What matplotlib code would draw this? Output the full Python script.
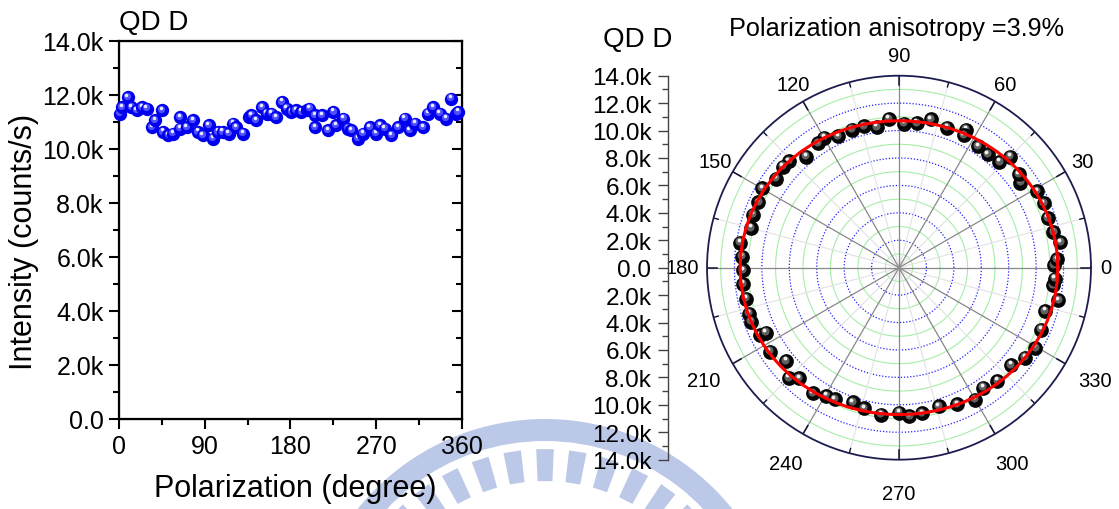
import numpy as np
import matplotlib
matplotlib.use("Agg")
from matplotlib import pyplot as plt
from matplotlib.ticker import MultipleLocator, FuncFormatter
from matplotlib.transforms import offset_copy
from matplotlib.patches import Wedge, Polygon

plt.rcParams['font.family'] = ['Liberation Sans', 'DejaVu Sans']

# polarizer angle (degree) and PL intensity (counts/s) of QD D
angle = [1, 3, 9, 13, 18.5, 24, 29, 35, 38, 45, 46.5, 52, 57, 64, 64, 71, 78, 83,
         88, 94, 99, 104, 109, 115, 120, 123, 130, 136, 139, 144, 150, 155, 160,
         165, 171, 176, 181, 186, 191.5, 197, 200, 206, 206, 213, 219.5, 225, 228,
         235.5, 240.5, 244, 251, 256, 263, 270, 274, 279, 286, 293, 300, 305, 311,
         319, 324.5, 329.5, 336.5, 343.5, 348.5, 353.5, 356]
intensity = [11310, 11550, 11920, 11550, 11430, 11550, 11490, 10810, 11060, 11430,
             10630, 10500, 10560, 11180, 10750, 10810, 11060, 10630, 10500, 10870,
             10380, 10630, 10630, 10560, 10940, 10810, 10560, 11180, 11240, 11060,
             11550, 11310, 11310, 11180, 11740, 11490, 11370, 11430, 11370, 11430,
             11490, 11240, 10810, 11240, 10690, 11370, 10870, 11120, 10750, 10690,
             10380, 10560, 10810, 10560, 10870, 10750, 10500, 10810, 11120, 10690,
             10940, 10810, 11310, 11550, 11310, 11120, 11860, 11310, 11370]

# cos(2θ) fit: mean intensity and polarization anisotropy
fit_mean = 11150.0
anisotropy = 0.039
theta_labels = list(range(0, 360, 30))


def k_fmt(v, pos):
    if abs(v) < 1e-6:
        return '0.0'
    return '%.1fk' % (abs(v) / 1000.0)


def balls(ax, xs, ys, size, base, mid, light):
    # shaded sphere symbols, one point at a time so overlaps stack properly
    t1 = offset_copy(ax.transData, fig=fig, x=-0.8, y=1.4, units='dots')
    t2 = offset_copy(ax.transData, fig=fig, x=-1.3, y=2.6, units='dots')
    for i, (x, y) in enumerate(zip(xs, ys)):
        z = 3 + i * 0.01
        ax.plot([x], [y], 'o', ms=size, mfc=base, mec=base, mew=0,
                zorder=z, clip_on=False)
        ax.plot([x], [y], 'o', ms=size * 0.55, mfc=mid, mew=0,
                transform=t1, zorder=z + 0.002, clip_on=False)
        ax.plot([x], [y], 'o', ms=size * 0.26, mfc=light, mew=0,
                transform=t2, zorder=z + 0.004, clip_on=False)


fig = plt.figure(figsize=(11.19, 5.10), dpi=100)

# faint emblem in the background
wm = fig.add_axes([0, 0, 1, 1], zorder=-5)
wm.set_xlim(0, 1119)
wm.set_ylim(510, 0)
wm.axis('off')
wm_c = (545, 660)
wm_color = '#bcc8e7'
wm.add_patch(Wedge(wm_c, 240, 195, 345, width=22, color=wm_color, lw=0))
for a in np.arange(198, 345, 9.0):
    r1, r2 = 178, 210
    w = np.deg2rad(2.4)
    t = np.deg2rad(a)
    pts = [(wm_c[0] + r1 * np.cos(t - w), wm_c[1] + r1 * np.sin(t - w)),
           (wm_c[0] + r2 * np.cos(t - w), wm_c[1] + r2 * np.sin(t - w)),
           (wm_c[0] + r2 * np.cos(t + w), wm_c[1] + r2 * np.sin(t + w)),
           (wm_c[0] + r1 * np.cos(t + w), wm_c[1] + r1 * np.sin(t + w))]
    wm.add_patch(Polygon(pts, closed=True, color=wm_color, lw=0))

# ---- left: intensity vs polarization angle ----
ax = fig.add_axes([0.1063, 0.1765, 0.3065, 0.7412])
ax.set_xlim(0, 360)
ax.set_ylim(0, 14000)
ax.xaxis.set_major_locator(MultipleLocator(90))
ax.xaxis.set_minor_locator(MultipleLocator(45))
ax.yaxis.set_major_locator(MultipleLocator(2000))
ax.yaxis.set_minor_locator(MultipleLocator(1000))
ax.yaxis.set_major_formatter(FuncFormatter(k_fmt))
ax.tick_params(which='both', direction='out', width=1.5, labelsize=18,
               top=False, right=False)
ax.tick_params(which='major', length=7, pad=4)
ax.tick_params(which='minor', length=4)
for s in ax.spines.values():
    s.set_linewidth(1.6)
axr = ax.twinx()
axr.set_ylim(0, 14000)
axr.yaxis.set_major_locator(MultipleLocator(2000))
axr.yaxis.set_minor_locator(MultipleLocator(1000))
axr.tick_params(which='both', direction='in', width=1.5, labelright=False)
axr.tick_params(which='major', length=7)
axr.tick_params(which='minor', length=4)
axr.set_zorder(ax.get_zorder() - 1)
ax.patch.set_visible(False)

balls(ax, angle, intensity, 9.6, '#0000ee', '#5050ff', '#ececff')
ax.set_xlabel('Polarization (degree)', fontsize=22)
ax.set_ylabel('Intensity (counts/s)', fontsize=22)
ax.xaxis.set_label_coords(0.513, -0.142)
ax.yaxis.set_label_coords(-0.232, 0.47)
fig.text(119 / 1119, 1 - 30 / 510, 'QD D', fontsize=20, va='baseline')

# ---- right: polar plot ----
axp = fig.add_axes([0.6318, 0.0967, 0.3432, 0.7529], projection='polar')
axp.set_ylim(0, 14000)
axp.set_xticks([])
axp.set_yticks([])
axp.grid(False)
axp.spines['polar'].set_color('#1c1c50')
axp.spines['polar'].set_linewidth(1.3)

ring = np.linspace(0, 2 * np.pi, 721)
for r in range(1000, 14000, 1000):
    if r % 2000:
        axp.plot(ring, np.full_like(ring, r), color='#a6eea6', lw=0.8, zorder=1)
    else:
        axp.plot(ring, np.full_like(ring, r), color='#2020ff', lw=0.9,
                 ls=(0, (1, 1.5)), zorder=1)
for a in range(0, 360, 15):
    t = np.deg2rad(a)
    if a % 30 == 0:
        axp.plot([t, t], [0, 14000], color='#888888', lw=0.9, zorder=1.5)
        axp.plot([t, t], [13300, 14000], color='#111133', lw=1.1, zorder=1.6)
    else:
        axp.plot([t, t], [0, 14000], color='#e2e2e2', lw=0.8, zorder=1.2)
        axp.plot([t, t], [13650, 14000], color='#111133', lw=1.0, zorder=1.6)

for a in theta_labels:
    t = np.deg2rad(a)
    if np.sin(t) < -0.1:
        rpx = 226
    elif np.sin(t) > 0.1:
        rpx = 212
    else:
        rpx = 212 - 5 * np.cos(t)
    axp.text(t, rpx / 192.0 * 14000, str(a), ha='center', va='center',
             fontsize=14.5, clip_on=False)

balls(axp, np.deg2rad(angle), intensity, 10.6, '#050505', '#606060', '#f0f0f0')

fit_t = np.deg2rad(np.arange(0, 365, 5))
fit_r = fit_mean * (1 + anisotropy * np.cos(2 * fit_t))
axp.plot(fit_t, fit_r, color='#ff0000', lw=2.2, zorder=10)

# radial scale drawn as a vertical axis beside the polar plot
axv = fig.add_axes([668 / 1119, 0.0967, 0.0001, 0.7529])
axv.set_ylim(-14000, 14000)
axv.patch.set_visible(False)
for k in ('right', 'top', 'bottom'):
    axv.spines[k].set_visible(False)
axv.spines['left'].set_color('#444444')
axv.spines['left'].set_linewidth(1.0)
axv.set_xticks([])
axv.yaxis.set_major_locator(MultipleLocator(2000))
axv.yaxis.set_minor_locator(MultipleLocator(1000))
axv.yaxis.set_major_formatter(FuncFormatter(k_fmt))
axv.tick_params(axis='y', which='major', length=7, width=1, labelsize=17.5,
                pad=5, color='#444444')
axv.tick_params(axis='y', which='minor', length=4, width=1, color='#444444')

fig.text(603 / 1119, 1 - 46.5 / 510, 'QD D', fontsize=20, va='baseline')
fig.text(896 / 1119, 1 - 36 / 510, 'Polarization anisotropy =3.9%',
         fontsize=18.2, ha='center', va='baseline')

fig.savefig('out.png', dpi=100)
